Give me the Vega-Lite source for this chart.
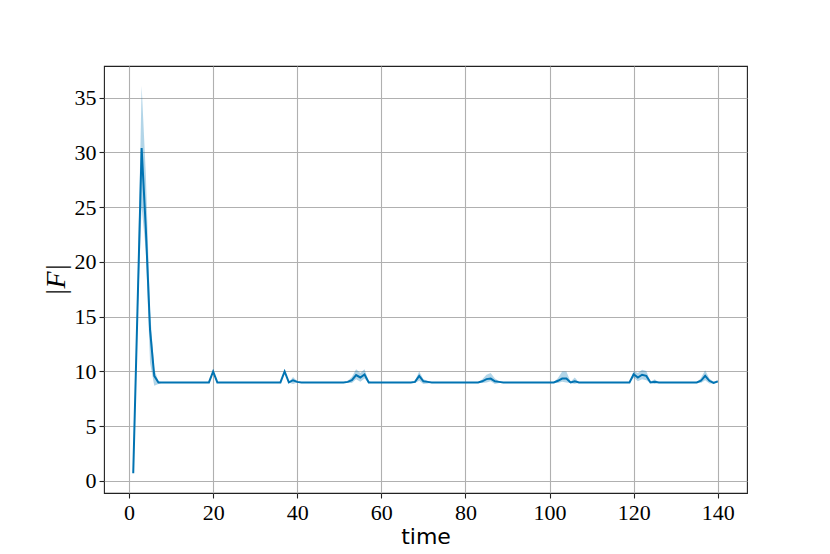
{
  "$schema": "https://vega.github.io/schema/vega-lite/v6.json",
  "autosize": {"type": "none"},
  "width": 643,
  "height": 427,
  "padding": {"left": 104, "top": 66, "right": 83, "bottom": 61},
  "background": "white",
  "config": {
    "view": {"stroke": "#222222", "strokeWidth": 1.1},
    "axis": {
      "grid": true,
      "gridColor": "#b0b0b0",
      "gridWidth": 1.1,
      "domain": false,
      "tickColor": "#222222",
      "tickSize": 5,
      "tickWidth": 1.1,
      "labelFont": "Liberation Serif",
      "labelFontSize": 22,
      "labelColor": "#000000",
      "titleColor": "#000000",
      "titleFontWeight": "normal"
    }
  },
  "data": {
    "values": [
      {"t":1,"m":0.7,"lo":0.55,"hi":0.95},
      {"t":2,"m":15.5,"lo":14.5,"hi":17.0},
      {"t":3,"m":30.4,"lo":25.0,"hi":36.1},
      {"t":4,"m":23.0,"lo":21.0,"hi":28.0},
      {"t":5,"m":13.8,"lo":10.8,"hi":15.5},
      {"t":6,"m":9.6,"lo":8.7,"hi":10.2},
      {"t":7,"m":9.0,"lo":8.85,"hi":9.1},
      {"t":8,"m":9.0,"lo":9.0,"hi":9.0},
      {"t":9,"m":9.0,"lo":9.0,"hi":9.0},
      {"t":10,"m":9.0,"lo":9.0,"hi":9.0},
      {"t":11,"m":9.0,"lo":9.0,"hi":9.0},
      {"t":12,"m":9.0,"lo":9.0,"hi":9.0},
      {"t":13,"m":9.0,"lo":9.0,"hi":9.0},
      {"t":14,"m":9.0,"lo":9.0,"hi":9.0},
      {"t":15,"m":9.0,"lo":9.0,"hi":9.0},
      {"t":16,"m":9.0,"lo":9.0,"hi":9.0},
      {"t":17,"m":9.0,"lo":9.0,"hi":9.0},
      {"t":18,"m":9.0,"lo":9.0,"hi":9.0},
      {"t":19,"m":9.0,"lo":9.0,"hi":9.0},
      {"t":20,"m":10.0,"lo":10.0,"hi":10.0},
      {"t":21,"m":9.0,"lo":9.0,"hi":9.0},
      {"t":22,"m":9.0,"lo":9.0,"hi":9.0},
      {"t":23,"m":9.0,"lo":9.0,"hi":9.0},
      {"t":24,"m":9.0,"lo":9.0,"hi":9.0},
      {"t":25,"m":9.0,"lo":9.0,"hi":9.0},
      {"t":26,"m":9.0,"lo":9.0,"hi":9.0},
      {"t":27,"m":9.0,"lo":9.0,"hi":9.0},
      {"t":28,"m":9.0,"lo":9.0,"hi":9.0},
      {"t":29,"m":9.0,"lo":9.0,"hi":9.0},
      {"t":30,"m":9.0,"lo":9.0,"hi":9.0},
      {"t":31,"m":9.0,"lo":9.0,"hi":9.0},
      {"t":32,"m":9.0,"lo":9.0,"hi":9.0},
      {"t":33,"m":9.0,"lo":9.0,"hi":9.0},
      {"t":34,"m":9.0,"lo":9.0,"hi":9.0},
      {"t":35,"m":9.0,"lo":9.0,"hi":9.0},
      {"t":36,"m":9.0,"lo":9.0,"hi":9.0},
      {"t":37,"m":10.0,"lo":10.0,"hi":10.0},
      {"t":38,"m":9.0,"lo":9.0,"hi":9.0},
      {"t":39,"m":9.2,"lo":8.85,"hi":9.5},
      {"t":40,"m":9.05,"lo":9.0,"hi":9.1},
      {"t":41,"m":9.0,"lo":9.0,"hi":9.0},
      {"t":42,"m":9.0,"lo":9.0,"hi":9.0},
      {"t":43,"m":9.0,"lo":9.0,"hi":9.0},
      {"t":44,"m":9.0,"lo":9.0,"hi":9.0},
      {"t":45,"m":9.0,"lo":9.0,"hi":9.0},
      {"t":46,"m":9.0,"lo":9.0,"hi":9.0},
      {"t":47,"m":9.0,"lo":9.0,"hi":9.0},
      {"t":48,"m":9.0,"lo":9.0,"hi":9.0},
      {"t":49,"m":9.0,"lo":9.0,"hi":9.0},
      {"t":50,"m":9.0,"lo":9.0,"hi":9.0},
      {"t":51,"m":9.0,"lo":9.0,"hi":9.0},
      {"t":52,"m":9.05,"lo":8.95,"hi":9.15},
      {"t":53,"m":9.2,"lo":8.95,"hi":9.5},
      {"t":54,"m":9.67,"lo":9.3,"hi":10.2},
      {"t":55,"m":9.45,"lo":9.05,"hi":9.85},
      {"t":56,"m":9.73,"lo":9.35,"hi":10.2},
      {"t":57,"m":9.0,"lo":8.95,"hi":9.1},
      {"t":58,"m":9.0,"lo":9.0,"hi":9.0},
      {"t":59,"m":9.0,"lo":9.0,"hi":9.0},
      {"t":60,"m":9.0,"lo":9.0,"hi":9.0},
      {"t":61,"m":9.0,"lo":9.0,"hi":9.0},
      {"t":62,"m":9.0,"lo":9.0,"hi":9.0},
      {"t":63,"m":9.0,"lo":9.0,"hi":9.0},
      {"t":64,"m":9.0,"lo":9.0,"hi":9.0},
      {"t":65,"m":9.0,"lo":9.0,"hi":9.0},
      {"t":66,"m":9.0,"lo":9.0,"hi":9.0},
      {"t":67,"m":9.0,"lo":9.0,"hi":9.0},
      {"t":68,"m":9.05,"lo":8.95,"hi":9.15},
      {"t":69,"m":9.6,"lo":9.15,"hi":10.0},
      {"t":70,"m":9.1,"lo":8.85,"hi":9.3},
      {"t":71,"m":9.05,"lo":8.9,"hi":9.15},
      {"t":72,"m":9.0,"lo":9.0,"hi":9.0},
      {"t":73,"m":9.0,"lo":9.0,"hi":9.0},
      {"t":74,"m":9.0,"lo":9.0,"hi":9.0},
      {"t":75,"m":9.0,"lo":9.0,"hi":9.0},
      {"t":76,"m":9.0,"lo":9.0,"hi":9.0},
      {"t":77,"m":9.0,"lo":9.0,"hi":9.0},
      {"t":78,"m":9.0,"lo":9.0,"hi":9.0},
      {"t":79,"m":9.0,"lo":9.0,"hi":9.0},
      {"t":80,"m":9.0,"lo":9.0,"hi":9.0},
      {"t":81,"m":9.0,"lo":9.0,"hi":9.0},
      {"t":82,"m":9.0,"lo":9.0,"hi":9.0},
      {"t":83,"m":9.0,"lo":9.0,"hi":9.0},
      {"t":84,"m":9.1,"lo":8.95,"hi":9.3},
      {"t":85,"m":9.3,"lo":9.0,"hi":9.7},
      {"t":86,"m":9.35,"lo":9.1,"hi":9.85},
      {"t":87,"m":9.1,"lo":8.85,"hi":9.35},
      {"t":88,"m":9.05,"lo":8.95,"hi":9.1},
      {"t":89,"m":9.0,"lo":9.0,"hi":9.0},
      {"t":90,"m":9.0,"lo":9.0,"hi":9.0},
      {"t":91,"m":9.0,"lo":9.0,"hi":9.0},
      {"t":92,"m":9.0,"lo":9.0,"hi":9.0},
      {"t":93,"m":9.0,"lo":9.0,"hi":9.0},
      {"t":94,"m":9.0,"lo":9.0,"hi":9.0},
      {"t":95,"m":9.0,"lo":9.0,"hi":9.0},
      {"t":96,"m":9.0,"lo":9.0,"hi":9.0},
      {"t":97,"m":9.0,"lo":9.0,"hi":9.0},
      {"t":98,"m":9.0,"lo":9.0,"hi":9.0},
      {"t":99,"m":9.0,"lo":9.0,"hi":9.0},
      {"t":100,"m":9.0,"lo":9.0,"hi":9.0},
      {"t":101,"m":9.0,"lo":9.0,"hi":9.0},
      {"t":102,"m":9.15,"lo":8.95,"hi":9.4},
      {"t":103,"m":9.35,"lo":9.05,"hi":10.0},
      {"t":104,"m":9.35,"lo":9.0,"hi":10.0},
      {"t":105,"m":9.0,"lo":8.95,"hi":9.05},
      {"t":106,"m":9.1,"lo":8.85,"hi":9.45},
      {"t":107,"m":9.0,"lo":9.0,"hi":9.0},
      {"t":108,"m":9.0,"lo":9.0,"hi":9.0},
      {"t":109,"m":9.0,"lo":9.0,"hi":9.0},
      {"t":110,"m":9.0,"lo":9.0,"hi":9.0},
      {"t":111,"m":9.0,"lo":9.0,"hi":9.0},
      {"t":112,"m":9.0,"lo":9.0,"hi":9.0},
      {"t":113,"m":9.0,"lo":9.0,"hi":9.0},
      {"t":114,"m":9.0,"lo":9.0,"hi":9.0},
      {"t":115,"m":9.0,"lo":9.0,"hi":9.0},
      {"t":116,"m":9.0,"lo":9.0,"hi":9.0},
      {"t":117,"m":9.0,"lo":9.0,"hi":9.0},
      {"t":118,"m":9.0,"lo":9.0,"hi":9.0},
      {"t":119,"m":9.0,"lo":9.0,"hi":9.0},
      {"t":120,"m":9.75,"lo":9.45,"hi":10.05},
      {"t":121,"m":9.45,"lo":9.1,"hi":9.85},
      {"t":122,"m":9.7,"lo":9.3,"hi":10.15},
      {"t":123,"m":9.6,"lo":9.2,"hi":10.05},
      {"t":124,"m":9.0,"lo":8.95,"hi":9.05},
      {"t":125,"m":9.05,"lo":8.85,"hi":9.3},
      {"t":126,"m":9.0,"lo":9.0,"hi":9.0},
      {"t":127,"m":9.0,"lo":9.0,"hi":9.0},
      {"t":128,"m":9.0,"lo":9.0,"hi":9.0},
      {"t":129,"m":9.0,"lo":9.0,"hi":9.0},
      {"t":130,"m":9.0,"lo":9.0,"hi":9.0},
      {"t":131,"m":9.0,"lo":9.0,"hi":9.0},
      {"t":132,"m":9.0,"lo":9.0,"hi":9.0},
      {"t":133,"m":9.0,"lo":9.0,"hi":9.0},
      {"t":134,"m":9.0,"lo":9.0,"hi":9.0},
      {"t":135,"m":9.0,"lo":9.0,"hi":9.0},
      {"t":136,"m":9.15,"lo":8.95,"hi":9.4},
      {"t":137,"m":9.6,"lo":9.2,"hi":10.1},
      {"t":138,"m":9.15,"lo":8.9,"hi":9.35},
      {"t":139,"m":8.95,"lo":8.9,"hi":9.05},
      {"t":140,"m":9.1,"lo":9.0,"hi":9.2}
    ]
  },
  "encoding": {
    "x": {
      "field": "t",
      "type": "quantitative",
      "scale": {"domain": [-5.95, 146.95], "nice": false, "zero": false},
      "axis": {
        "values": [0, 20, 40, 60, 80, 100, 120, 140],
        "title": "time",
        "titleFont": "DejaVu Sans",
        "titleFontSize": 22,
        "titleBaseline": "alphabetic",
        "titleY": 50,
        "labelPadding": 4,
        "labelFlush": false
      }
    }
  },
  "layer": [
    {
      "mark": {"type": "area", "color": "#0173b2", "opacity": 0.3},
      "encoding": {
        "y": {
          "field": "lo",
          "type": "quantitative",
          "scale": {"domain": [-1.1, 37.9], "nice": false, "zero": false},
          "axis": {
            "values": [0, 5, 10, 15, 20, 25, 30, 35],
            "title": "|F|",
            "titleFont": "Liberation Serif",
            "titleFontStyle": "italic",
            "titleFontSize": 28,
            "titleBaseline": "alphabetic",
            "titleX": -40,
            "labelPadding": 3,
            "labelFlush": false
          }
        },
        "y2": {"field": "hi"}
      }
    },
    {
      "mark": {"type": "line", "color": "#0173b2", "strokeWidth": 2},
      "encoding": {
        "y": {"field": "m", "type": "quantitative"}
      }
    }
  ]
}
